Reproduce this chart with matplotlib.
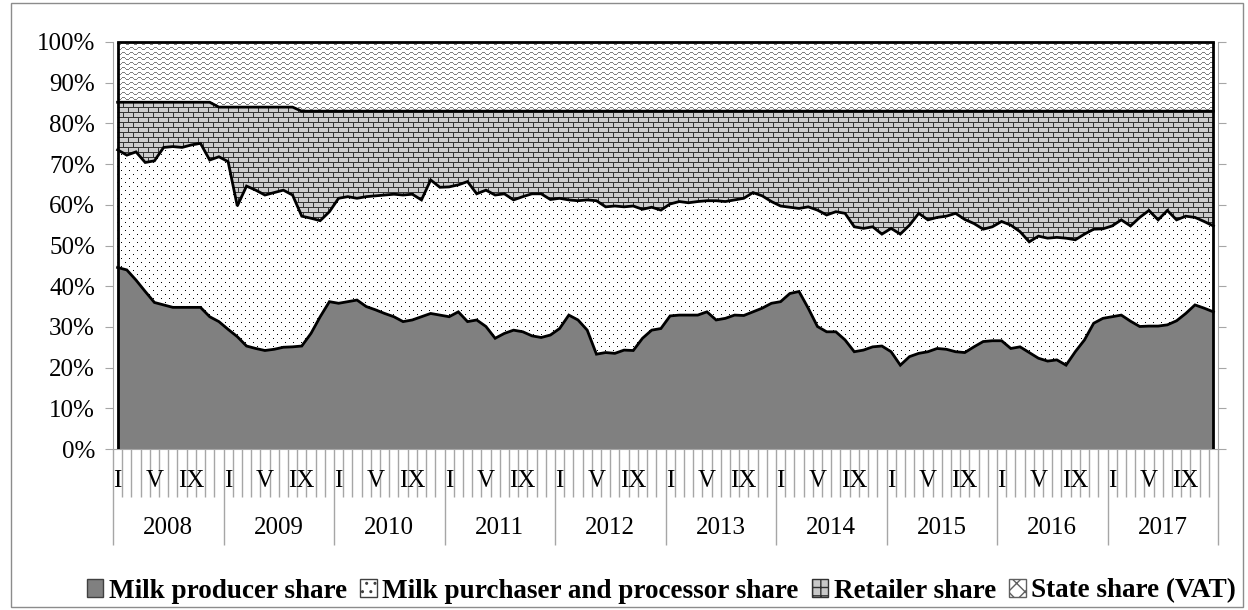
import numpy as np
import matplotlib.pyplot as plt
from matplotlib.patches import Patch, Rectangle

plt.rcParams['font.family'] = ['Liberation Serif', 'DejaVu Serif']

years = ['2008', '2009', '2010', '2011', '2012', '2013', '2014', '2015', '2016', '2017']
month_marks = {0: 'I', 4: 'V', 8: 'IX'}
legend_labels = ['Milk producer share', 'Milk purchaser and processor share',
                 'Retailer share', 'State share (VAT)']

# upper edge of each stacked layer, % of retail price, monthly 2008-2017
producer = [
    44.6, 44.0, 41.5, 38.7, 36.0, 35.4, 34.8, 34.8, 34.8, 34.8, 32.5, 31.3,
    29.4, 27.6, 25.3, 24.7, 24.2, 24.5, 25.0, 25.1, 25.3, 28.4, 32.5, 36.2,
    35.8, 36.2, 36.6, 35.0, 34.2, 33.3, 32.5, 31.3, 31.7, 32.5, 33.3, 32.9,
    32.5, 33.7, 31.3, 31.7, 30.1, 27.2, 28.4, 29.2, 28.8, 27.8, 27.4, 28.0,
    29.6, 32.9, 31.7, 29.2, 23.3, 23.7, 23.5, 24.3, 24.2, 27.2, 29.2, 29.6,
    32.7, 32.9, 32.9, 32.9, 33.7, 31.7, 32.1, 32.9, 32.8, 33.7, 34.6, 35.8,
    36.2, 38.2, 38.7, 34.6, 30.1, 28.8, 28.8, 26.8, 23.9, 24.3, 25.1, 25.3,
    23.9, 20.6, 22.7, 23.5, 23.9, 24.7, 24.5, 23.9, 23.7, 25.1, 26.4, 26.6,
    26.6, 24.7, 25.1, 23.7, 22.3, 21.6, 21.9, 20.6, 23.9, 26.8, 30.9, 32.1,
    32.5, 32.9, 31.4, 30.1, 30.2, 30.2, 30.5, 31.5, 33.3, 35.4, 34.6, 33.7,
]
with_processor = [
    73.5, 72.2, 73.0, 70.4, 70.8, 74.1, 74.3, 74.1, 74.7, 75.1, 71.0, 71.8,
    70.6, 59.7, 64.6, 63.6, 62.4, 63.0, 63.6, 62.4, 57.2, 56.7, 56.1, 58.3,
    61.6, 62.0, 61.6, 62.0, 62.2, 62.4, 62.6, 62.4, 62.6, 61.2, 66.1, 64.3,
    64.4, 64.9, 65.7, 62.7, 63.6, 62.4, 62.7, 61.2, 62.0, 62.7, 62.7, 61.3,
    61.6, 61.2, 61.0, 61.2, 61.0, 59.5, 59.7, 59.5, 59.7, 58.9, 59.4, 58.7,
    60.2, 60.8, 60.5, 60.8, 61.0, 61.0, 60.8, 61.2, 61.6, 63.0, 62.2, 60.8,
    59.7, 59.4, 59.1, 59.5, 58.7, 57.5, 58.3, 57.9, 54.6, 54.2, 54.6, 52.8,
    54.2, 52.8, 55.0, 57.9, 56.3, 56.9, 57.2, 57.9, 56.4, 55.4, 54.0, 54.6,
    55.9, 55.0, 53.4, 50.9, 52.3, 51.8, 52.0, 51.8, 51.4, 52.8, 54.0, 54.1,
    54.8, 56.3, 54.8, 56.9, 58.6, 56.3, 58.6, 56.3, 57.2, 56.9, 55.9, 54.8,
]
with_retailer = [
    85.2, 85.2, 85.2, 85.2, 85.2, 85.2, 85.2, 85.2, 85.2, 85.2, 85.2, 84.0,
    84.0, 84.0, 84.0, 84.0, 84.0, 84.0, 84.0, 84.0, 83.0, 83.0, 83.0, 83.0,
    83.0, 83.0, 83.0, 83.0, 83.0, 83.0, 83.0, 83.0, 83.0, 83.0, 83.0, 83.0,
    83.0, 83.0, 83.0, 83.0, 83.0, 83.0, 83.0, 83.0, 83.0, 83.0, 83.0, 83.0,
    83.0, 83.0, 83.0, 83.0, 83.0, 83.0, 83.0, 83.0, 83.0, 83.0, 83.0, 83.0,
    83.0, 83.0, 83.0, 83.0, 83.0, 83.0, 83.0, 83.0, 83.0, 83.0, 83.0, 83.0,
    83.0, 83.0, 83.0, 83.0, 83.0, 83.0, 83.0, 83.0, 83.0, 83.0, 83.0, 83.0,
    83.0, 83.0, 83.0, 83.0, 83.0, 83.0, 83.0, 83.0, 83.0, 83.0, 83.0, 83.0,
    83.0, 83.0, 83.0, 83.0, 83.0, 83.0, 83.0, 83.0, 83.0, 83.0, 83.0, 83.0,
    83.0, 83.0, 83.0, 83.0, 83.0, 83.0, 83.0, 83.0, 83.0, 83.0, 83.0, 83.0,
]


def make_tile(kind):
    if kind == 'dots':
        t = np.ones((8, 8, 3))
        t[0, 0] = 0.0
        t[4, 4] = 0.0
    elif kind == 'bricks':
        t = np.full((10, 10, 3), 0.80)
        t[0] = 0.2
        t[5] = 0.2
        t[1:5, 0] = 0.2
        t[6:10, 5] = 0.2
    else:  # waves
        t = np.ones((5, 8, 3))
        ys = [1, 0, 0, 0, 1, 2, 2, 2]
        for col, row in enumerate(ys):
            t[row, col] = 0.5
    return t


def pattern_image(kind, h, w):
    t = make_tile(kind)
    reps = (h // t.shape[0] + 1, w // t.shape[1] + 1, 1)
    return np.tile(t, reps)[:h, :w]


fig = plt.figure(figsize=(12.48, 6.10), dpi=100)
ax = fig.add_axes([113 / 1248, 1 - 449 / 610, 1105 / 1248, 407 / 610])

n = len(producer)
x = np.arange(n) + 0.5
top = np.full(n, 100.0)
H, W = 407, 1105

ax.fill_between(x, 0, producer, facecolor='#808080', lw=0, zorder=1)
layers = [(producer, with_processor, 'dots'),
          (with_processor, with_retailer, 'bricks'),
          (with_retailer, top, 'waves')]
for lo, hi, kind in layers:
    poly = ax.fill_between(x, lo, hi, facecolor='none', lw=0, zorder=1)
    im = ax.imshow(pattern_image(kind, H, W), extent=(0, n, 0, 100),
                   aspect='auto', interpolation='nearest', zorder=1)
    im.set_clip_path(poly.get_paths()[0], transform=ax.transData)

for line in (producer, with_processor, with_retailer):
    ax.plot(x, line, color='black', lw=2.0, zorder=3, solid_joinstyle='miter')
ax.plot(x, top, color='black', lw=2.0, zorder=3, clip_on=False)
ax.vlines([x[0], x[-1]], 0, 100, color='black', lw=2.0, zorder=3)

ax.set_xlim(0, n)
ax.set_ylim(0, 100)
ax.set_yticks(range(0, 101, 10))
ax.set_yticklabels([f'{v}%' for v in range(0, 101, 10)])
ax.set_xticks(range(0, n + 1, 12))
ax.set_xticks(range(0, n + 1), minor=True)
ax.set_xticklabels([])

for side in ('left', 'bottom', 'right'):
    ax.spines[side].set_color('#a6a6a6')
ax.spines['top'].set_visible(False)
ax.tick_params(axis='y', direction='out', length=6, color='#a6a6a6',
               labelsize=18, pad=7, right=True)
ax.tick_params(axis='x', which='major', direction='out', length=69,
               color='#a6a6a6', width=1)
ax.tick_params(axis='x', which='minor', direction='out', length=34.5,
               color='#a6a6a6', width=1)

trans = ax.get_xaxis_transform()
for k, yr in enumerate(years):
    for m, lab in month_marks.items():
        ax.text(k * 12 + m + 0.5, -0.079, lab, transform=trans,
                ha='center', va='center', fontsize=18)
    ax.text(k * 12 + 6, -0.194, yr, transform=trans,
            ha='center', va='center', fontsize=18)

handles = [Patch(facecolor='#808080', edgecolor='#404040'),
           Patch(facecolor='white', edgecolor='#404040', hatch='..'),
           Patch(facecolor='#c8c8c8', edgecolor='#303030', hatch='++'),
           Patch(facecolor='white', edgecolor='#606060', hatch='xx')]
fig.legend(handles, legend_labels, loc='center', ncol=4, frameon=False,
           bbox_to_anchor=(0.530, 1 - 591 / 610),
           prop={'weight': 'bold', 'size': 19.5},
           handlelength=0.6, handleheight=0.6, handletextpad=0.2,
           columnspacing=0.5)

fig.patches.append(Rectangle((11 / 1248, 3 / 610), 1232 / 1248, 604 / 610,
                             transform=fig.transFigure, fill=False,
                             edgecolor='#8c8c8c', lw=1))

fig.savefig('out.png', dpi=100)
